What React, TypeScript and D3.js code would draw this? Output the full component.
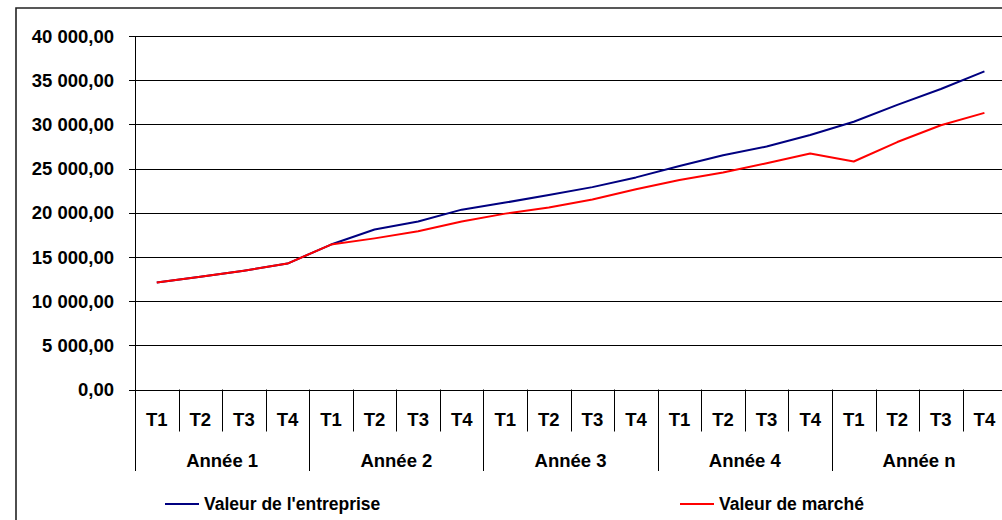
import React from "react";
import * as d3 from "d3";

const quarters = ["T1", "T2", "T3", "T4"];
const years = ["Année 1", "Année 2", "Année 3", "Année 4", "Année n"];
const yTicks = [0, 5000, 10000, 15000, 20000, 25000, 30000, 35000, 40000];
const valeurEntreprise = [
  12100, 12750, 13450, 14250, 16400, 18100, 19000, 20350, 21150, 22000,
  22900, 24000, 25300, 26500, 27500, 28800, 30300, 32200, 34000, 36000,
];
const valeurMarche = [
  12100, 12750, 13450, 14250, 16400, 17100, 17900, 19000, 19900, 20600,
  21500, 22650, 23700, 24550, 25600, 26700, 25800, 28000, 29900, 31300,
];
const seriesNames = ["Valeur de l'entreprise", "Valeur de marché"];
const seriesColors = ["#000080", "#ff0000"];

const W = 1002;
const H = 520;
const left = 135;
const right = 1006.2;
const top = 36;
const bottom = 389.5;
const font = "'Liberation Sans', Arial, sans-serif";

const locale = d3.formatLocale({
  decimal: ",",
  thousands: " ",
  grouping: [3],
  currency: ["", " €"],
});
const fmt = locale.format(",.2f");

export default function App() {
  const n = years.length * quarters.length;
  const idx = d3.range(n);
  const x = d3.scaleBand<number>().domain(idx).range([left, right]).padding(0);
  const y = d3.scaleLinear().domain([0, 40000]).range([bottom, top]);
  const cx = (i: number) => (x(i) as number) + x.bandwidth() / 2;
  const line = d3
    .line<number>()
    .x((_, i) => cx(i))
    .y((d) => y(d));
  const series = [valeurEntreprise, valeurMarche];
  const qBottom = 431.5;
  const yBottom = 471;

  return (
    <svg
      width={W}
      height={H}
      style={{ position: "absolute", left: 0, top: 0, background: "#fff" }}
      fontFamily={font}
      fontWeight="bold"
    >
      <rect x={0} y={0} width={W} height={H} fill="#fff" />
      {/* outer frame */}
      <path d={`M16,${H + 2} V8 H${W + 2}`} fill="none" stroke="#222" strokeWidth={1.6} />

      {/* gridlines + ticks */}
      {yTicks.map((t) => (
        <g key={t}>
          <line
            x1={129}
            x2={right}
            y1={Math.round(y(t)) + 0.5}
            y2={Math.round(y(t)) + 0.5}
            stroke="#000"
            strokeWidth={1}
          />
          <text
            x={114}
            y={y(t)}
            dy="0.36em"
            textAnchor="end"
            fontSize={18.5}
            fill="#000"
          >
            {fmt(t)}
          </text>
        </g>
      ))}

      {/* left axis */}
      <line x1={135.5} x2={135.5} y1={top} y2={yBottom} stroke="#000" strokeWidth={1} />

      {/* category separators */}
      {idx.map((i) => {
        if (i === 0) return null;
        const xx = Math.round(x(i) as number) + 0.5;
        const isYear = i % quarters.length === 0;
        return (
          <line
            key={"s" + i}
            x1={xx}
            x2={xx}
            y1={bottom}
            y2={isYear ? yBottom : qBottom}
            stroke="#000"
            strokeWidth={1}
          />
        );
      })}
      {idx.map((i) => (
        <text
          key={"q" + i}
          x={cx(i)}
          y={419}
          dy="0.36em"
          textAnchor="middle"
          fontSize={18.5}
        >
          {quarters[i % quarters.length]}
        </text>
      ))}
      {years.map((yr, j) => {
        const x0 = x(j * quarters.length) as number;
        const mid = x0 + (x.bandwidth() * quarters.length) / 2;
        return (
          <text key={yr} x={mid} y={460} dy="0.36em" textAnchor="middle" fontSize={18.5}>
            {yr}
          </text>
        );
      })}

      {/* lines */}
      {series.map((s, k) => (
        <path
          key={k}
          d={line(s) || ""}
          fill="none"
          stroke={seriesColors[k]}
          strokeWidth={2}
          strokeLinejoin="round"
        />
      ))}

      {/* legend */}
      {seriesNames.map((name, k) => {
        const lx = k === 0 ? 165 : 680;
        return (
          <g key={name}>
            <line x1={lx} x2={lx + 34} y1={504} y2={504} stroke={seriesColors[k]} strokeWidth={2} />
            <text x={lx + 39} y={504} dy="0.36em" fontSize={17.5}>
              {name}
            </text>
          </g>
        );
      })}
    </svg>
  );
}
